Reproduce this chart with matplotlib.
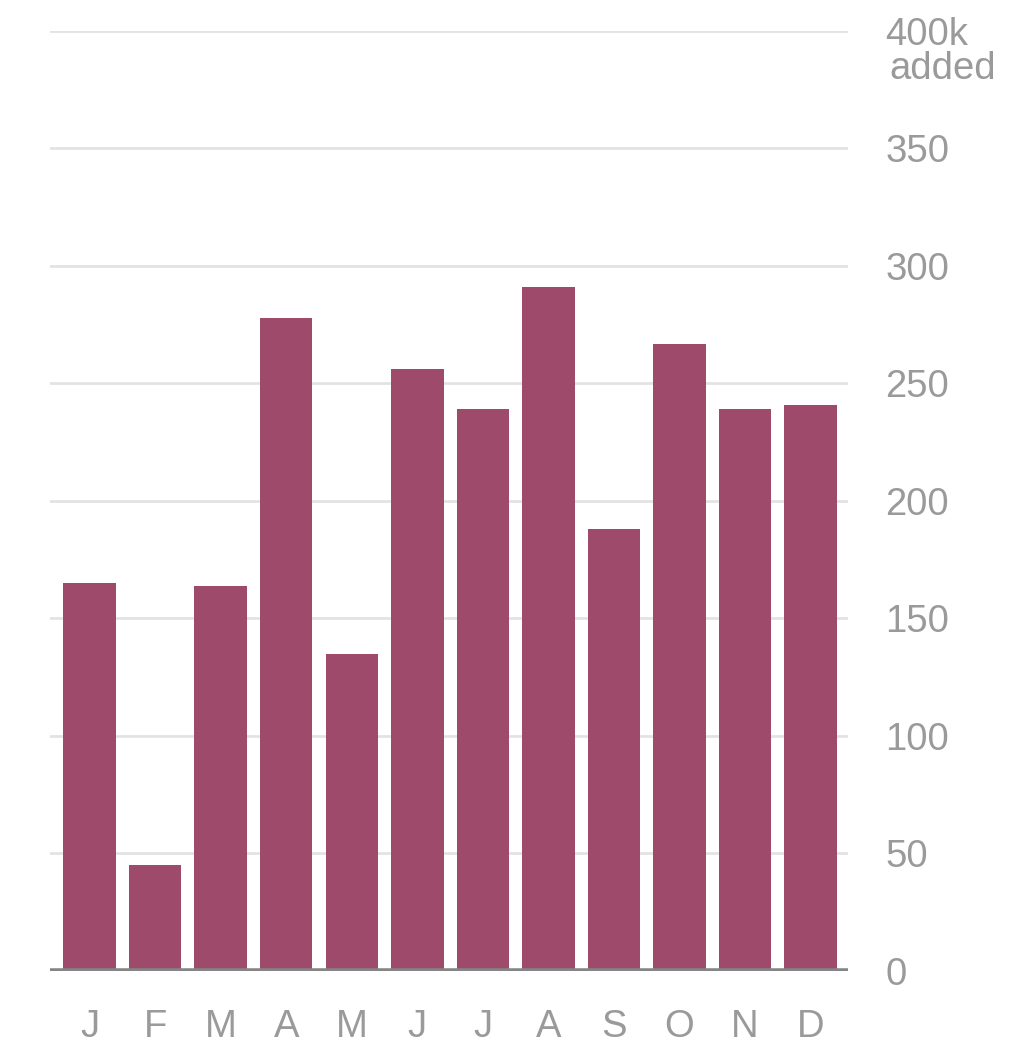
import matplotlib
matplotlib.use("Agg")
import matplotlib.pyplot as plt
from matplotlib.transforms import blended_transform_factory

months = ["J", "F", "M", "A", "M", "J", "J", "A", "S", "O", "N", "D"]
jobs_added = [165, 45, 164, 278, 135, 256, 239, 291, 188, 267, 239, 241]
y_ticks = [0, 50, 100, 150, 200, 250, 300, 350, 400]
y_tick_labels = ["0", "50", "100", "150", "200", "250", "300", "350", "400k"]

BAR = "#9e4a6a"
TEXT = "#9a9a9a"
GRID = "#e3e3e3"
BASE = "#858585"
FS = 27.5

plt.rcParams["font.family"] = ["Liberation Sans", "DejaVu Sans"]

fig = plt.figure(figsize=(10.35, 10.46), dpi=100)
ax = fig.add_axes([0.0483, 0.0717, 0.8193 - 0.0483, 0.9704 - 0.0717])

x = list(range(len(months)))
ax.bar(x, jobs_added, width=0.80, color=BAR, zorder=3)

ax.set_xlim(-0.603, 11.57)
ax.set_ylim(0, 400)

# horizontal gridlines across the plot area
for t in y_ticks[1:]:
    ax.axhline(t, color=GRID, lw=2, zorder=1)
ax.axhline(0, color=BASE, lw=4, zorder=4, solid_capstyle="butt")

for s in ax.spines.values():
    s.set_visible(False)

ax.yaxis.tick_right()
ax.set_yticks(y_ticks)
ax.set_yticklabels(y_tick_labels)
ax.tick_params(axis="y", length=0, pad=27, labelsize=FS, labelcolor=TEXT)
ax.set_xticks(x)
ax.set_xticklabels(months)
ax.tick_params(axis="x", length=0, pad=27, labelsize=FS, labelcolor=TEXT)

trans = blended_transform_factory(ax.transAxes, ax.transData)
ax.text(1.0 + 41 / (0.8193 - 0.0483) / 1035, 384, "added", transform=trans,
        ha="left", va="center", fontsize=FS, color=TEXT)

fig.savefig("out.png", dpi=100, facecolor="white")
